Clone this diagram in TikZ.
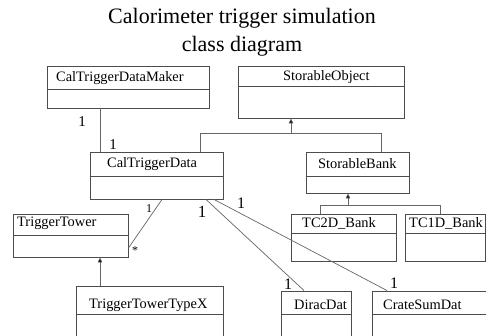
\documentclass[tikz,border=0pt]{standalone}
\usepackage{fontspec}
\setmainfont{Liberation Serif}
\usetikzlibrary{arrows.meta}
\begin{document}
\begin{tikzpicture}[x=1pt,y=-1pt,
  cls/.style={draw=black!70, line width=0.9pt, rectangle, inner sep=0pt, fill=white},
  lbl/.style={anchor=west, inner sep=0pt, font=\fontsize{14.4}{16}\selectfont},
  mult/.style={inner sep=0pt, font=\fontsize{15}{16}\selectfont},
  conn/.style={draw=black!60, line width=0.7pt},
  gen/.style={conn, -{Triangle[length=5pt,width=4.5pt,fill=black]}}]
\clip (0,0) rectangle (486,336);
\fill[white] (0,0) rectangle (486,336);
% title
\node[inner sep=0pt, font=\fontsize{22}{28}\selectfont, align=center] (title) at (242,32) {Calorimeter trigger simulation\\class diagram};
% classes
\node[cls, minimum width=162pt, minimum height=42pt] (maker) at (128,87) {};
\draw[black!70, line width=0.9pt] (maker.west |- 0,89) -- (maker.east |- 0,89);
\node[lbl] (makerT) at (56,78) {CalTriggerDataMaker};

\node[cls, minimum width=166pt, minimum height=52pt] (sobj) at (321,92) {};
\draw[black!70, line width=0.9pt] (sobj.west |- 0,86) -- (sobj.east |- 0,86);
\node[lbl] (sobjT) at (283,77) {StorableObject};

\node[cls, minimum width=133pt, minimum height=47pt] (ctd) at (156.5,175.5) {};
\draw[black!70, line width=0.9pt] (ctd.west |- 0,176) -- (ctd.east |- 0,176);
\node[lbl] (ctdT) at (107,164) {CalTriggerData};

\node[cls, minimum width=103pt, minimum height=41pt] (sbank) at (357.5,172.5) {};
\draw[black!70, line width=0.9pt] (sbank.west |- 0,176) -- (sbank.east |- 0,176);
\node[lbl] (sbankT) at (318,164) {StorableBank};

\node[cls, minimum width=105pt, minimum height=47pt] (tc2) at (343.5,237.5) {};
\draw[black!70, line width=0.9pt] (tc2.west |- 0,233) -- (tc2.east |- 0,233);
\node[lbl] (tc2T) at (302,223.5) {TC2D\_Bank};

\node[cls, minimum width=80pt, minimum height=47pt] (tc1) at (445,237.5) {};
\draw[black!70, line width=0.9pt] (tc1.west |- 0,233) -- (tc1.east |- 0,233);
\node[lbl] (tc1T) at (409,223.5) {TC1D\_Bank};

\node[cls, minimum width=115pt, minimum height=43pt] (tt) at (70.5,235.5) {};
\draw[black!70, line width=0.9pt] (tt.west |- 0,235) -- (tt.east |- 0,235);
\node[lbl] (ttT) at (17,223.5) {TriggerTower};

\node[cls, minimum width=147pt, minimum height=70pt] (ttx) at (149.5,321) {};
\draw[black!70, line width=0.9pt] (ttx.west |- 0,314) -- (ttx.east |- 0,314);
\node[lbl] (ttxT) at (89,305) {TriggerTowerTypeX};

\node[cls, minimum width=70pt, minimum height=64pt] (dirac) at (316,323) {};
\draw[black!70, line width=0.9pt] (dirac.west |- 0,314) -- (dirac.east |- 0,314);
\node[lbl] (diracT) at (294,305) {DiracDat};

\node[cls, minimum width=123pt, minimum height=64pt] (crate) at (433.5,323) {};
\draw[black!70, line width=0.9pt] (crate.west |- 0,314) -- (crate.east |- 0,314);
\node[lbl] (crateT) at (383,305) {CrateSumDat};

% association maker - ctd
\draw[conn] ([xshift=-28pt]maker.south) -- ([xshift=-28pt]maker.south |- ctd.north);
\node[mult] (m1) at (82,122) {1};
\node[mult] (m2) at (113,145) {1};

% generalization to StorableObject
\coordinate (j1) at (291,133);
\draw[conn] ([xshift=43.5pt]ctd.north) |- (j1);
\draw[conn] ([xshift=23.5pt]sbank.north) |- (j1);
\draw[gen] (j1) -- (j1 |- sobj.south);

% generalization to StorableBank
\coordinate (j2) at (348,205);
\draw[conn] ([xshift=-23.5pt]tc2.north) |- (j2);
\draw[conn] ([xshift=-5pt]tc1.north) |- (j2);
\draw[gen] (j2) -- (j2 |- sbank.south);

% generalization TriggerTowerTypeX -> TriggerTower
\draw[gen] ([xshift=-49.5pt]ttx.north) -- ([xshift=-49.5pt]ttx.north |- tt.south);

% associations from CalTriggerData
\draw[conn] ([xshift=5.5pt]ctd.south) -- ([yshift=-12.5pt]tt.east);
\node[mult, font=\fontsize{12}{13}\selectfont] (m3) at (149,209) {1};
\node[mult, font=\fontsize{12}{13}\selectfont] (m4) at (135,251) {*};

\draw[conn] ([xshift=49.5pt]ctd.south) -- ([xshift=-12pt]dirac.north);
\node[mult, font=\fontsize{17}{18}\selectfont] (m5) at (202,212) {1};
\node[mult, font=\fontsize{16}{17}\selectfont] (m6) at (288,284) {1};

\draw[conn] ([xshift=57.5pt]ctd.south) -- ([xshift=-46.5pt]crate.north);
\node[mult, font=\fontsize{16}{17}\selectfont] (m7) at (241,203) {1};
\node[mult, font=\fontsize{16}{17}\selectfont] (m8) at (394,283) {1};
\end{tikzpicture}
\end{document}
